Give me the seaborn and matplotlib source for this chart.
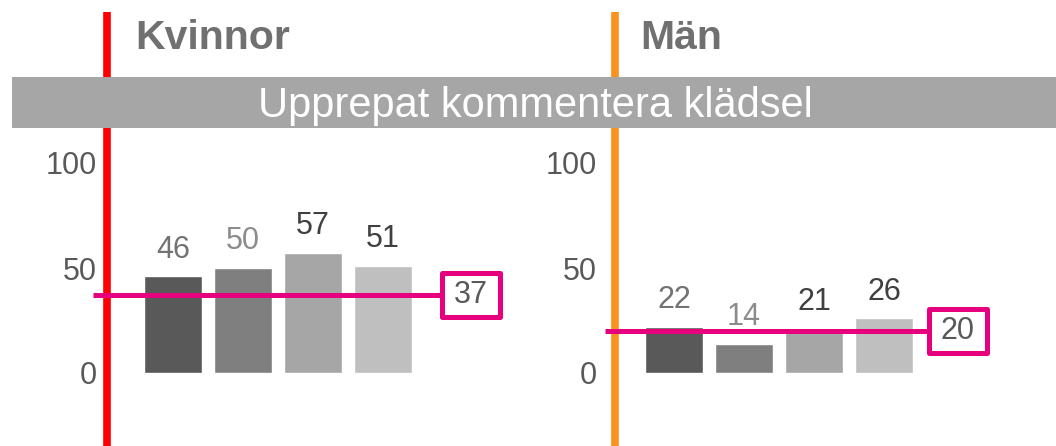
import matplotlib
matplotlib.use("Agg")
import matplotlib.pyplot as plt
from matplotlib.lines import Line2D
from matplotlib.patches import Rectangle
import seaborn as sns

# --- Data ---
groups = ["Grupp 1", "Grupp 2", "Grupp 3", "Grupp 4"]
kvinnor_values = [46, 50, 57, 51]
man_values = [22, 14, 21, 26]
kvinnor_total = 37
man_total = 20
panel_titles = ["Kvinnor", "Män"]
banner_text = "Upprepat kommentera klädsel"
y_ticks = [0, 50, 100]

# --- Styling ---
bar_colors = ["#595959", "#7f7f7f", "#a6a6a6", "#bfbfbf"]
label_colors = ["#737373", "#8c8c8c", "#404040", "#404040"]
accent_colors = ["#ff0000", "#f7931e"]
pink = "#e6007e"
text_gray = "#595959"

sns.set_theme(style="white")
plt.rcParams["font.family"] = ["Liberation Sans", "DejaVu Sans"]

W, H = 1056, 446
fig = plt.figure(figsize=(W / 100, H / 100), dpi=100)
fig.patch.set_facecolor("white")

PX_PER_CAT = 70
PX_PER_UNIT = 2.1
AX_TOP_PX = 140
ZERO_PX = 373

# panel layout in pixels: first bar centre, axes left/right, box centre, accent line
panels = [
    dict(vals=kvinnor_values, total=kvinnor_total, c0=173, left=102, right=525,
         box_x=4.26, line_x0=-1.14, accent_x=-0.94, title_px=135),
    dict(vals=man_values, total=man_total, c0=674, left=602, right=1050,
         box_x=4.05, line_x0=-0.99, accent_x=-0.84, title_px=640),
]

ax_h = (H - AX_TOP_PX) / H
ymin = -(H - ZERO_PX) / PX_PER_UNIT
ymax = (ZERO_PX - AX_TOP_PX) / PX_PER_UNIT

for i, p in enumerate(panels):
    ax = fig.add_axes([p["left"] / W, 0, (p["right"] - p["left"]) / W, ax_h])
    ax.set_facecolor("none")

    sns.barplot(x=groups, y=p["vals"], hue=groups, order=groups, hue_order=groups,
                palette=bar_colors, width=0.83, saturation=1, legend=False, ax=ax)

    ax.set_xlim((p["left"] - p["c0"]) / PX_PER_CAT, (p["right"] - p["c0"]) / PX_PER_CAT)
    ax.set_ylim(ymin, ymax)
    ax.set_yticks(y_ticks)
    ax.set_yticklabels([str(t) for t in y_ticks])
    ax.tick_params(axis="y", length=0, pad=3.5, labelsize=22, labelcolor=text_gray)
    ax.set_xticks([])
    ax.set_xlabel("")
    ax.set_ylabel("")
    for s in ax.spines.values():
        s.set_visible(False)

    # value labels
    for j, v in enumerate(p["vals"]):
        ax.text(j, v + 9, str(v), ha="center", va="baseline", fontsize=22,
                color=label_colors[j])

    # accent vertical line (extends up to the title area)
    top_frac = (H - 12) / (H - AX_TOP_PX)
    ax.axvline(p["accent_x"], ymin=0, ymax=top_frac, color=accent_colors[i],
               lw=5.5, clip_on=False, zorder=1, solid_capstyle="butt")

    # total line with boxed value
    box_w = 58 / PX_PER_CAT
    box_h = 44 / PX_PER_UNIT
    box_left = p["box_x"] - box_w / 2
    ax.plot([p["line_x0"], box_left], [p["total"], p["total"]], color=pink, lw=3.6,
            clip_on=False, zorder=4, solid_capstyle="butt")
    ax.add_patch(Rectangle((box_left, p["total"] - box_h / 2), box_w, box_h,
                           facecolor="white", edgecolor=pink, lw=3.6,
                           joinstyle="round", zorder=5, clip_on=False))
    ax.text(p["box_x"], p["total"], str(p["total"]), ha="center", va="center",
            fontsize=22, color=text_gray, zorder=6)

    # panel title
    fig.text(p["title_px"] / W, (H - 38) / H, panel_titles[i], ha="left",
             va="center", fontsize=29.5, fontweight="bold", color="#707070")

# grey banner across both panels
fig.add_artist(Rectangle((12 / W, (H - 128) / H), 1 - 12 / W, 51 / H,
                         transform=fig.transFigure, facecolor="#a6a6a6",
                         edgecolor="none", zorder=10))
fig.text(535 / W, (H - 117) / H, banner_text, ha="center", va="baseline",
         fontsize=30, color="white", zorder=11)

plt.savefig("out.png", dpi=100)
